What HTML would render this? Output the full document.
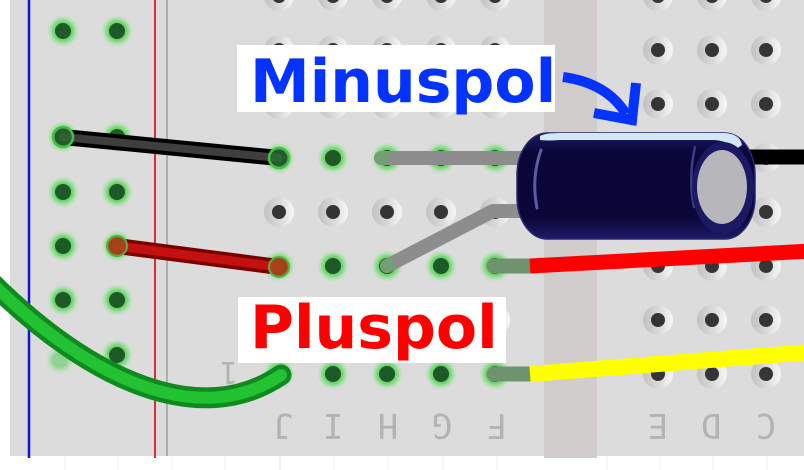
<!DOCTYPE html>
<html><head><meta charset="utf-8"><style>
html,body{margin:0;padding:0;background:#fff;}
svg{display:block;}
</style></head><body>
<svg width="804" height="470" viewBox="0 0 804 470" xmlns="http://www.w3.org/2000/svg">
<defs>
<linearGradient id="rg" x1="0" y1="0" x2="1" y2="0">
<stop offset="0" stop-color="#c2c2c2"/><stop offset="0.5" stop-color="#d8d8d8"/><stop offset="1" stop-color="#f7f7f7"/>
</linearGradient>
<radialGradient id="gg">
<stop offset="0.45" stop-color="#5dcb5d"/><stop offset="0.7" stop-color="#9de19d"/><stop offset="1" stop-color="#dcdcdc" stop-opacity="0"/>
</radialGradient>
<linearGradient id="body" x1="0" y1="0" x2="0" y2="1">
<stop offset="0" stop-color="#1e1a66"/><stop offset="0.18" stop-color="#0b0638"/><stop offset="0.8" stop-color="#0b0638"/><stop offset="1" stop-color="#1e1a66"/>
</linearGradient>
<g id="h"><circle r="15" fill="url(#rg)"/><circle r="7" fill="#353535"/></g>
<g id="g"><circle r="17" fill="url(#gg)"/><circle r="8" fill="#1e5a28"/></g>
</defs>

<!-- board -->
<rect x="0" y="0" width="804" height="470" fill="#fff"/>
<rect x="10" y="0" width="794" height="456" fill="#dcdcdc"/>
<rect x="544" y="0" width="53" height="458" fill="#d1cdcd"/>
<g stroke="#ececec" stroke-width="1">
<line x1="65" y1="456" x2="65" y2="470"/><line x1="118" y1="456" x2="118" y2="470"/><line x1="172" y1="456" x2="172" y2="470"/><line x1="225" y1="456" x2="225" y2="470"/><line x1="280" y1="456" x2="280" y2="470"/><line x1="334" y1="456" x2="334" y2="470"/><line x1="388" y1="456" x2="388" y2="470"/><line x1="443" y1="456" x2="443" y2="470"/><line x1="497" y1="456" x2="497" y2="470"/><line x1="607" y1="456" x2="607" y2="470"/><line x1="660" y1="456" x2="660" y2="470"/><line x1="713" y1="456" x2="713" y2="470"/><line x1="767" y1="456" x2="767" y2="470"/>
</g>
<line x1="29" y1="0" x2="29" y2="458" stroke="#1414d2" stroke-width="2.5"/>
<line x1="155" y1="0" x2="155" y2="458" stroke="#d03030" stroke-width="2"/>
<line x1="167" y1="0" x2="167" y2="456" stroke="#aeaeae" stroke-width="2"/>

<!-- left rail holes -->
<use href="#g" x="63" y="31"/><use href="#g" x="117" y="31"/>
<use href="#g" x="63" y="137"/><use href="#g" x="117" y="137"/>
<use href="#g" x="63" y="192"/><use href="#g" x="117" y="192"/>
<use href="#g" x="63" y="246"/><use href="#g" x="117" y="246"/>
<use href="#g" x="63" y="300"/><use href="#g" x="117" y="300"/>
<circle cx="60" cy="360" r="15" fill="url(#gg)" opacity="0.6"/><use href="#g" x="117" y="355"/>

<!-- main holes, normal rows -->
<use href="#h" x="279" y="-4"/><use href="#h" x="333" y="-4"/><use href="#h" x="387" y="-4"/><use href="#h" x="441" y="-4"/><use href="#h" x="495" y="-4"/>
<use href="#h" x="279" y="50"/><use href="#h" x="333" y="50"/><use href="#h" x="387" y="50"/><use href="#h" x="441" y="50"/><use href="#h" x="495" y="50"/>
<use href="#h" x="279" y="104"/><use href="#h" x="333" y="104"/><use href="#h" x="387" y="104"/><use href="#h" x="441" y="104"/><use href="#h" x="495" y="104"/>
<use href="#h" x="279" y="212"/><use href="#h" x="333" y="212"/><use href="#h" x="387" y="212"/><use href="#h" x="441" y="212"/><use href="#h" x="495" y="212"/>
<use href="#h" x="279" y="320"/><use href="#h" x="333" y="320"/><use href="#h" x="387" y="320"/><use href="#h" x="441" y="320"/><use href="#h" x="495" y="320"/>
<!-- green rows -->
<use href="#g" x="279" y="158"/><use href="#g" x="333" y="158"/><use href="#g" x="387" y="158"/><use href="#g" x="441" y="158"/><use href="#g" x="495" y="158"/>
<use href="#g" x="279" y="266"/><use href="#g" x="333" y="266"/><use href="#g" x="387" y="266"/><use href="#g" x="441" y="266"/><use href="#g" x="495" y="266"/>
<use href="#g" x="279" y="374"/><use href="#g" x="333" y="374"/><use href="#g" x="387" y="374"/><use href="#g" x="441" y="374"/><use href="#g" x="495" y="374"/>
<!-- right holes -->
<use href="#h" x="658" y="-4"/><use href="#h" x="712" y="-4"/><use href="#h" x="766" y="-4"/><use href="#h" x="820" y="-4"/>
<use href="#h" x="658" y="50"/><use href="#h" x="712" y="50"/><use href="#h" x="766" y="50"/><use href="#h" x="820" y="50"/>
<use href="#h" x="658" y="104"/><use href="#h" x="712" y="104"/><use href="#h" x="766" y="104"/><use href="#h" x="820" y="104"/>
<use href="#h" x="658" y="158"/><use href="#h" x="712" y="158"/><use href="#h" x="766" y="158"/><use href="#h" x="820" y="158"/>
<use href="#h" x="658" y="212"/><use href="#h" x="712" y="212"/><use href="#h" x="766" y="212"/><use href="#h" x="820" y="212"/>
<use href="#h" x="658" y="266"/><use href="#h" x="712" y="266"/><use href="#h" x="766" y="266"/><use href="#h" x="820" y="266"/>
<use href="#h" x="658" y="320"/><use href="#h" x="712" y="320"/><use href="#h" x="766" y="320"/><use href="#h" x="820" y="320"/>
<use href="#h" x="658" y="374"/><use href="#h" x="712" y="374"/><use href="#h" x="766" y="374"/><use href="#h" x="820" y="374"/>

<!-- bottom labels (upside down) -->
<g font-family="'DejaVu Sans Mono','Liberation Mono',monospace" font-size="34" fill="#b3b3b3" text-anchor="middle">
<text x="283" y="440" transform="rotate(180 283 427)">J</text>
<text x="333" y="440" transform="rotate(180 333 427)">I</text>
<text x="388" y="440" transform="rotate(180 388 427)">H</text>
<text x="442" y="440" transform="rotate(180 442 427)">G</text>
<text x="497" y="440" transform="rotate(180 497 427)">F</text>
<text x="658" y="440" transform="rotate(180 658 427)">E</text>
<text x="711" y="440" transform="rotate(180 711 427)">D</text>
<text x="766" y="440" transform="rotate(180 766 427)">C</text>
<text x="229" y="384" font-size="30" transform="rotate(180 229 373)">1</text>
</g>

<!-- black wire left -->
<line x1="63" y1="137" x2="279" y2="158" stroke="#000" stroke-width="16" stroke-linecap="round"/>
<line x1="63" y1="137" x2="279" y2="158" stroke="#3e3e3e" stroke-width="8" stroke-linecap="round"/>
<circle cx="63" cy="137" r="10" fill="#2c6a32" fill-opacity="0.85" stroke="#45c045" stroke-width="2.5"/>
<circle cx="279" cy="158" r="10" fill="#2c6a32" fill-opacity="0.85" stroke="#45c045" stroke-width="2.5"/>

<!-- red wire left -->
<line x1="117" y1="246" x2="279" y2="267" stroke="#7a0000" stroke-width="16" stroke-linecap="round"/>
<line x1="117" y1="246" x2="279" y2="267" stroke="#c41010" stroke-width="9" stroke-linecap="round"/>
<circle cx="117" cy="246" r="10" fill="#a5481e" fill-opacity="0.9" stroke="#56b040" stroke-width="2"/>
<circle cx="279" cy="267" r="10" fill="#a5481e" fill-opacity="0.9" stroke="#56b040" stroke-width="2"/>

<!-- green wire -->
<path d="M-8,283 C90,380 200,430 281,375" fill="none" stroke="#0e8a1e" stroke-width="21" stroke-linecap="round"/>
<path d="M-8,283 C90,380 200,430 281,375" fill="none" stroke="#22c233" stroke-width="12" stroke-linecap="round"/>

<!-- capacitor legs -->
<line x1="381" y1="158" x2="530" y2="158" stroke="#8d8d8d" stroke-width="14" stroke-linecap="round"/>
<polyline points="387,266 493,211 530,211" fill="none" stroke="#8d8d8d" stroke-width="14" stroke-linecap="round" stroke-linejoin="round"/>
<circle cx="382" cy="158" r="7" fill="#72a072"/>
<circle cx="387" cy="266" r="7" fill="#72a072"/>

<!-- right red wire -->
<line x1="494" y1="266" x2="532" y2="266" stroke="#6e936e" stroke-width="15" stroke-linecap="round"/>
<line x1="530" y1="266" x2="812" y2="251" stroke="#ff0000" stroke-width="15"/>
<!-- yellow wire -->
<line x1="494" y1="374" x2="532" y2="374" stroke="#6e936e" stroke-width="15" stroke-linecap="round"/>
<line x1="530" y1="374" x2="812" y2="352" stroke="#ffff00" stroke-width="16"/>
<!-- black wire right -->
<line x1="740" y1="157" x2="812" y2="157" stroke="#000" stroke-width="15"/>

<!-- capacitor -->
<rect x="517" y="133" width="238" height="106" rx="30" ry="42" fill="url(#body)"/>
<rect x="517" y="133" width="238" height="106" rx="30" ry="42" fill="none" stroke="#2a2670" stroke-width="1.5"/>
<path d="M540,136 Q545,133 560,133 L725,133 Q740,134 742,145 L735,150 Q728,140 712,140 L560,140 Q548,141 540,140 Z" fill="#d2e8f6"/>
<path d="M541,150 Q531,178 537,208" fill="none" stroke="#5c5ca6" stroke-width="3" stroke-linecap="round"/>
<path d="M695,147 Q688,178 694,207" fill="none" stroke="#3c3c86" stroke-width="2.5" stroke-linecap="round"/>
<ellipse cx="723" cy="188" rx="31" ry="46" fill="#1c1862"/>
<ellipse cx="722" cy="187" rx="25" ry="37" fill="#b7b7bb"/>

<!-- Minuspol label -->
<rect x="237" y="45" width="318" height="67" fill="#fff"/>
<text x="250" y="102" font-family="'DejaVu Sans','Liberation Sans',sans-serif" font-weight="bold" font-size="60" fill="#0433ff">Minuspol</text>
<!-- arrow -->
<path d="M563,77 Q607,83 626,114" fill="none" stroke="#0433ff" stroke-width="10"/>
<path d="M594,113 L632,120 L636,83" fill="none" stroke="#0433ff" stroke-width="10" stroke-linejoin="miter"/>

<!-- Pluspol label -->
<rect x="238" y="297" width="268" height="66" fill="#fff"/>
<text x="250" y="348" font-family="'DejaVu Sans','Liberation Sans',sans-serif" font-weight="bold" font-size="60" fill="#ff0000">Pluspol</text>
</svg>
</body></html>
